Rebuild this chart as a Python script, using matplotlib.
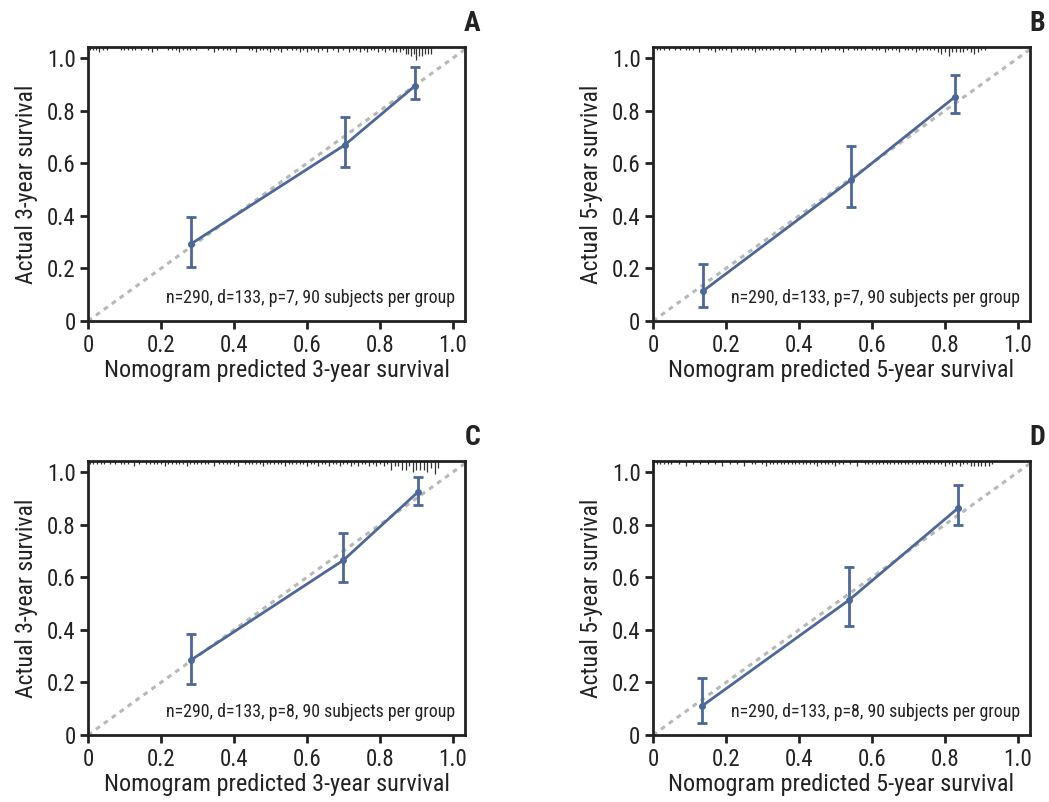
import matplotlib
matplotlib.use("Agg")
import matplotlib.pyplot as plt
from matplotlib import font_manager as fm
import matplotlib.transforms as mtransforms

names = {f.name for f in fm.fontManager.ttflist}
narrow = None
for cand in ["Liberation Sans Narrow", "Roboto Condensed", "Open Sans Condensed", "Noto Sans Condensed"]:
    if cand in names:
        narrow = cand
        break

if narrow:
    plt.rcParams['font.family'] = [narrow, 'DejaVu Sans']
    FS_XLAB, FS_YLAB, FS_TICK, FS_NOTE, FS_PANEL = 17.5, 17.0, 16.5, 12.85, 20
else:
    plt.rcParams['font.family'] = ['Liberation Sans', 'DejaVu Sans']
    FS_XLAB, FS_YLAB, FS_TICK, FS_NOTE, FS_PANEL = 15.3, 15.0, 14.5, 11.2, 17

# ---------------- data ----------------
panel_labels = ["A", "B", "C", "D"]
x_labels = ["Nomogram predicted 3-year survival", "Nomogram predicted 5-year survival",
            "Nomogram predicted 3-year survival", "Nomogram predicted 5-year survival"]
y_labels = ["Actual 3-year survival", "Actual 5-year survival",
            "Actual 3-year survival", "Actual 5-year survival"]
notes = ["n=290, d=133, p=7, 90 subjects per group", "n=290, d=133, p=7, 90 subjects per group",
         "n=290, d=133, p=8, 90 subjects per group", "n=290, d=133, p=8, 90 subjects per group"]

pred_A = [0.282, 0.703, 0.895]
obs_A = [0.293, 0.669, 0.893]
lo_A = [0.205, 0.585, 0.845]
hi_A = [0.395, 0.775, 0.965]

pred_B = [0.137, 0.542, 0.827]
obs_B = [0.114, 0.536, 0.852]
lo_B = [0.055, 0.435, 0.790]
hi_B = [0.215, 0.665, 0.935]

pred_C = [0.282, 0.700, 0.904]
obs_C = [0.285, 0.665, 0.924]
lo_C = [0.195, 0.580, 0.875]
hi_C = [0.385, 0.770, 0.980]

pred_D = [0.134, 0.537, 0.836]
obs_D = [0.110, 0.513, 0.863]
lo_D = [0.045, 0.415, 0.800]
hi_D = [0.215, 0.640, 0.950]

# rug of predicted values (position, relative count)
rug_A_x = [0.005, 0.015, 0.022, 0.03, 0.04, 0.052, 0.09, 0.10, 0.11, 0.12, 0.13, 0.145,
           0.165, 0.175, 0.19, 0.22, 0.23, 0.24, 0.25, 0.26, 0.27, 0.28, 0.295,
           0.33, 0.345, 0.355, 0.37, 0.38, 0.39, 0.405, 0.44, 0.45, 0.46, 0.47, 0.48,
           0.49, 0.50, 0.51, 0.52, 0.53, 0.545, 0.56, 0.57, 0.58, 0.59, 0.60, 0.61,
           0.62, 0.63, 0.64, 0.655, 0.67, 0.685, 0.70, 0.715, 0.725, 0.735, 0.745,
           0.755, 0.765, 0.775, 0.785, 0.795, 0.805, 0.815, 0.825, 0.835, 0.845,
           0.855, 0.862, 0.87, 0.878, 0.886, 0.894, 0.90, 0.908, 0.916, 0.924, 0.932, 0.94]
rug_A_n = [1, 1, 1, 2, 1, 1, 1, 1, 1, 1, 1, 1,
           1, 2, 1, 1, 1, 1, 2, 1, 1, 1, 1,
           1, 2, 1, 1, 1, 1, 2, 1, 1, 2, 1, 1,
           1, 2, 1, 1, 2, 1, 1, 1, 2, 1, 2, 1,
           1, 2, 1, 2, 1, 2, 1, 2, 1, 1, 2,
           1, 2, 1, 1, 2, 1, 2, 1, 2, 2,
           2, 1, 3, 3, 4, 3, 6, 4, 4, 3, 3, 3]

rug_B_x = [0.0, 0.01, 0.02, 0.03, 0.045, 0.06, 0.075, 0.09, 0.10, 0.11, 0.125, 0.15,
           0.16, 0.17, 0.18, 0.19, 0.20, 0.215, 0.23, 0.24, 0.25, 0.26, 0.27, 0.28,
           0.29, 0.30, 0.31, 0.32, 0.33, 0.345, 0.36, 0.375, 0.39, 0.41, 0.43,
           0.445, 0.46, 0.47, 0.48, 0.50, 0.51, 0.52, 0.535, 0.55, 0.56, 0.57, 0.58,
           0.60, 0.61, 0.62, 0.635, 0.645, 0.655, 0.665, 0.675, 0.69, 0.70, 0.71, 0.72,
           0.73, 0.74, 0.75, 0.76, 0.77, 0.78, 0.79, 0.80, 0.81, 0.82, 0.83, 0.84,
           0.85, 0.86, 0.87, 0.88, 0.89, 0.90, 0.91]
rug_B_n = [6, 1, 1, 1, 1, 1, 1, 1, 1, 1, 2, 1,
           1, 2, 1, 1, 1, 2, 1, 1, 1, 1, 1, 2,
           1, 1, 1, 1, 1, 1, 1, 1, 2, 1, 1,
           1, 2, 1, 1, 1, 1, 2, 1, 1, 1, 1, 1,
           1, 1, 1, 2, 1, 1, 1, 2, 1, 1, 1, 2,
           1, 1, 1, 1, 1, 2, 3, 2, 4, 2, 2, 2,
           2, 1, 2, 3, 2, 1, 1]

rug_C_x = [0.005, 0.015, 0.025, 0.035, 0.045, 0.06, 0.075, 0.09, 0.10, 0.11, 0.125, 0.14,
           0.16, 0.17, 0.18, 0.19, 0.20, 0.21, 0.22, 0.23, 0.24, 0.25, 0.26, 0.27, 0.28,
           0.29, 0.30, 0.31, 0.32, 0.33, 0.345, 0.36, 0.37, 0.38, 0.39, 0.40, 0.41,
           0.43, 0.44, 0.45, 0.46, 0.47, 0.48, 0.49, 0.50, 0.51, 0.52, 0.53, 0.54,
           0.55, 0.56, 0.57, 0.58, 0.59, 0.60, 0.61, 0.62, 0.63, 0.64, 0.65, 0.66,
           0.67, 0.68, 0.69, 0.70, 0.71, 0.72, 0.73, 0.74, 0.75, 0.76, 0.77, 0.78,
           0.79, 0.80, 0.81, 0.82, 0.83, 0.84, 0.85, 0.86, 0.87, 0.88, 0.89, 0.90,
           0.91, 0.92, 0.93, 0.94, 0.95, 0.96]
rug_C_n = [1, 1, 1, 1, 1, 1, 1, 1, 1, 1, 2, 1,
           1, 1, 1, 1, 1, 2, 1, 1, 1, 1, 1, 2, 1,
           1, 1, 1, 1, 1, 2, 1, 1, 1, 1, 1, 2,
           1, 1, 1, 1, 1, 2, 1, 1, 1, 1, 1, 2,
           1, 1, 1, 1, 1, 2, 1, 1, 2, 1, 1, 2,
           1, 1, 2, 1, 1, 2, 1, 2, 1, 1, 2, 1,
           2, 1, 2, 1, 4, 2, 2, 4, 4, 2, 5, 4,
           4, 4, 5, 3, 6, 3]

rug_D_x = [0.0, 0.01, 0.02, 0.03, 0.04, 0.05, 0.07, 0.09, 0.11, 0.13, 0.15, 0.17, 0.19,
           0.21, 0.23, 0.25, 0.27, 0.28, 0.30, 0.31, 0.32, 0.33, 0.34, 0.35, 0.36,
           0.37, 0.38, 0.39, 0.40, 0.41, 0.42, 0.43, 0.44, 0.45, 0.46, 0.47, 0.48,
           0.49, 0.50, 0.51, 0.52, 0.54, 0.56, 0.58, 0.59, 0.60, 0.61, 0.62, 0.63,
           0.64, 0.65, 0.66, 0.67, 0.68, 0.69, 0.70, 0.71, 0.72, 0.73, 0.74, 0.75,
           0.76, 0.77, 0.78, 0.79, 0.80, 0.81, 0.82, 0.83, 0.84, 0.85, 0.86, 0.87,
           0.88, 0.89, 0.90, 0.91, 0.92, 0.93]
rug_D_n = [5, 1, 1, 1, 1, 1, 1, 2, 1, 1, 1, 1, 2,
           1, 1, 2, 1, 1, 1, 2, 1, 1, 1, 1, 1,
           1, 1, 1, 1, 1, 1, 1, 1, 2, 1, 1, 1,
           1, 2, 1, 1, 1, 2, 1, 1, 1, 1, 1, 1,
           1, 1, 1, 1, 1, 1, 1, 1, 1, 1, 1, 1,
           1, 1, 1, 1, 2, 1, 2, 1, 2, 1, 1, 2,
           2, 2, 2, 2, 2, 1]

panels = [
    (pred_A, obs_A, lo_A, hi_A, rug_A_x, rug_A_n),
    (pred_B, obs_B, lo_B, hi_B, rug_B_x, rug_B_n),
    (pred_C, obs_C, lo_C, hi_C, rug_C_x, rug_C_n),
    (pred_D, obs_D, lo_D, hi_D, rug_D_x, rug_D_n),
]

# ---------------- figure ----------------
W, H = 1049, 802
fig = plt.figure(figsize=(W / 100, H / 100), dpi=100)
boxes = [(88, 47), (653, 47), (88, 461), (653, 461)]
aw, ah = 377, 274
line_col = "#4D6799"

for i, (bx, by) in enumerate(boxes):
    pred, obs, lo, hi, rx, rn = panels[i]
    ax = fig.add_axes([bx / W, 1 - (by + ah) / H, aw / W, ah / H])
    ax.set_xlim(0, 1.033)
    ax.set_ylim(0, 1.042)
    ax.plot([0, 1.033], [0, 1.033], ls=(0, (1.6, 1.6)), color="#b8b8b8", lw=2.2, zorder=1)
    ax.plot(pred, obs, color=line_col, lw=2.0, zorder=3)
    yerr = [[o - l for o, l in zip(obs, lo)], [h - o for o, h in zip(obs, hi)]]
    ax.errorbar(pred, obs, yerr=yerr, fmt="o", ms=4, color=line_col, ecolor=line_col,
                elinewidth=2.0, capsize=3.5, capthick=2.0, zorder=4)
    # rug along top
    trans = mtransforms.blended_transform_factory(ax.transData, ax.transAxes)
    for x, n in zip(rx, rn):
        L = (1.0 + 2.0 * n) / ah
        ax.plot([x, x], [1.0, 1.0 - L], color="#333333", lw=0.9, transform=trans,
                solid_capstyle="butt", zorder=2, clip_on=False)
    for s in ax.spines.values():
        s.set_linewidth(2.0)
        s.set_color("#222222")
    ax.set_xticks([0, 0.2, 0.4, 0.6, 0.8, 1.0])
    ax.set_xticklabels(["0", "0.2", "0.4", "0.6", "0.8", "1.0"])
    ax.set_yticks([0, 0.2, 0.4, 0.6, 0.8, 1.0])
    ax.set_yticklabels(["0", "0.2", "0.4", "0.6", "0.8", "1.0"])
    ax.tick_params(direction="out", length=6, width=2, labelsize=FS_TICK, colors="#222222",
                   pad=3)
    ax.set_xlabel(x_labels[i], fontsize=FS_XLAB, color="#222222", labelpad=2)
    ax.set_ylabel(y_labels[i], fontsize=FS_YLAB, color="#222222", labelpad=6)
    ax.text(0.973, 0.085, notes[i], transform=ax.transAxes, ha="right", va="center",
            fontsize=FS_NOTE, color="#222222")
    ax.text(1.04, 1.035, panel_labels[i], transform=ax.transAxes, ha="right", va="bottom",
            fontsize=FS_PANEL, fontweight="bold", color="#222222")

fig.savefig("out.png", dpi=100)
